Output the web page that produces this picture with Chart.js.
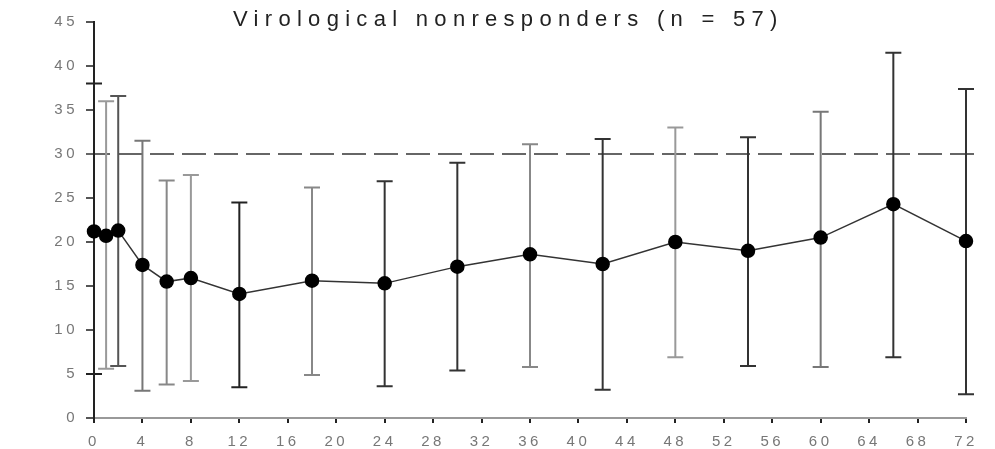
<!DOCTYPE html>
<html>
<head>
<meta charset="utf-8">
<script src="https://cdn.jsdelivr.net/npm/chart.js@4/dist/chart.umd.min.js"></script>
<style>
  html, body { margin: 0; padding: 0; background: #fff; }
  #wrap { width: 995px; height: 449px; }
</style>
</head>
<body>
<div id="wrap"><canvas id="chart" width="995" height="449"></canvas></div>
<script>
// data (weeks vs value, with error bar ends)
const weeks = [0, 1, 2, 4, 6, 8, 12, 18, 24, 30, 36, 42, 48, 54, 60, 66, 72];
const means = [21.2, 20.7, 21.3, 17.4, 15.5, 15.9, 14.1, 15.6, 15.3, 17.2, 18.6, 17.5, 20.0, 19.0, 20.5, 24.3, 20.1];
const upper = [38.0, 36.0, 36.6, 31.5, 27.0, 27.6, 24.5, 26.2, 26.9, 29.0, 31.1, 31.7, 33.0, 31.9, 34.8, 41.5, 37.4];
const lower = [5.0, 5.6, 5.9, 3.1, 3.8, 4.2, 3.5, 4.9, 3.6, 5.4, 5.8, 3.2, 6.9, 5.9, 5.8, 6.9, 2.7];
const threshold = 30;
const titleText = 'Virological nonresponders (n = 57)';

// scanned look: some bars darker than others
const barColors = ['#222', '#999', '#555', '#777', '#888', '#999', '#222', '#888', '#333',
                   '#333', '#888', '#333', '#999', '#333', '#777', '#333', '#333'];

const points = weeks.map((w, i) => ({ x: w, y: means[i] }));

// the scanned labels are widely spaced
function spread(chart) { chart.ctx.letterSpacing = '3.5px'; }

// error bars + dashed reference line + title
const extras = {
  id: 'extras',
  beforeUpdate: spread,
  beforeLayout: spread,
  beforeDraw: spread,
  beforeDatasetsDraw(chart) {
    const ctx = chart.ctx;
    const xs = chart.scales.x, ys = chart.scales.y;
    ctx.save();
    // dashed line at threshold
    const ty = ys.getPixelForValue(threshold);
    ctx.strokeStyle = '#666';
    ctx.lineWidth = 2;
    ctx.setLineDash([24, 8]);
    ctx.beginPath();
    ctx.moveTo(chart.chartArea.left - 8, ty);
    ctx.lineTo(chart.chartArea.right + 9, ty);
    ctx.stroke();
    ctx.setLineDash([]);
    // error bars
    weeks.forEach((w, i) => {
      const px = xs.getPixelForValue(w);
      const top = ys.getPixelForValue(upper[i]);
      const bot = ys.getPixelForValue(lower[i]);
      ctx.strokeStyle = barColors[i];
      ctx.lineWidth = 2;
      ctx.beginPath();
      ctx.moveTo(px, top); ctx.lineTo(px, bot);
      ctx.moveTo(px - 8, top); ctx.lineTo(px + 8, top);
      ctx.moveTo(px - 8, bot); ctx.lineTo(px + 8, bot);
      ctx.stroke();
    });
    ctx.restore();
  },
  afterDraw(chart) {
    const ctx = chart.ctx;
    ctx.save();
    ctx.fillStyle = '#222';
    ctx.letterSpacing = '6.3px';
    ctx.font = '22px "Liberation Sans", Arial, sans-serif';
    ctx.textAlign = 'left';
    ctx.textBaseline = 'middle';
    ctx.fillText(titleText, 233, 20);
    ctx.restore();
  }
};

const tickFont = { family: '"Liberation Sans", Arial, sans-serif', size: 15 };

new Chart(document.getElementById('chart').getContext('2d'), {
  type: 'line',
  data: {
    datasets: [{
      data: points,
      borderColor: '#333',
      borderWidth: 1.5,
      pointRadius: 6.5,
      pointBackgroundColor: '#000',
      pointBorderColor: '#000',
      tension: 0,
      fill: false,
      clip: false
    }]
  },
  options: {
    responsive: false,
    animation: false,
    devicePixelRatio: 1,
    layout: { padding: { top: 22, right: 29, left: 0, bottom: 0 } },
    plugins: { legend: { display: false }, tooltip: { enabled: false } },
    scales: {
      x: {
        type: 'linear',
        min: 0, max: 72,
        ticks: {
          stepSize: 4,
          color: '#777',
          font: tickFont,
          padding: 10,
          maxRotation: 0,
          autoSkip: false
        },
        grid: { drawOnChartArea: false, tickLength: 5, color: '#222', lineWidth: 2 },
        border: { color: '#999', width: 2 },
        afterFit(scale) { scale.height = 31; }
      },
      y: {
        min: 0, max: 45,
        ticks: {
          stepSize: 5,
          color: '#777',
          font: tickFont,
          padding: 8
        },
        grid: { drawOnChartArea: false, tickLength: 8, color: '#555', lineWidth: 2 },
        border: { color: '#222', width: 2 },
        afterFit(scale) { scale.width = 94; }
      }
    }
  },
  plugins: [extras]
});
</script>
</body>
</html>
